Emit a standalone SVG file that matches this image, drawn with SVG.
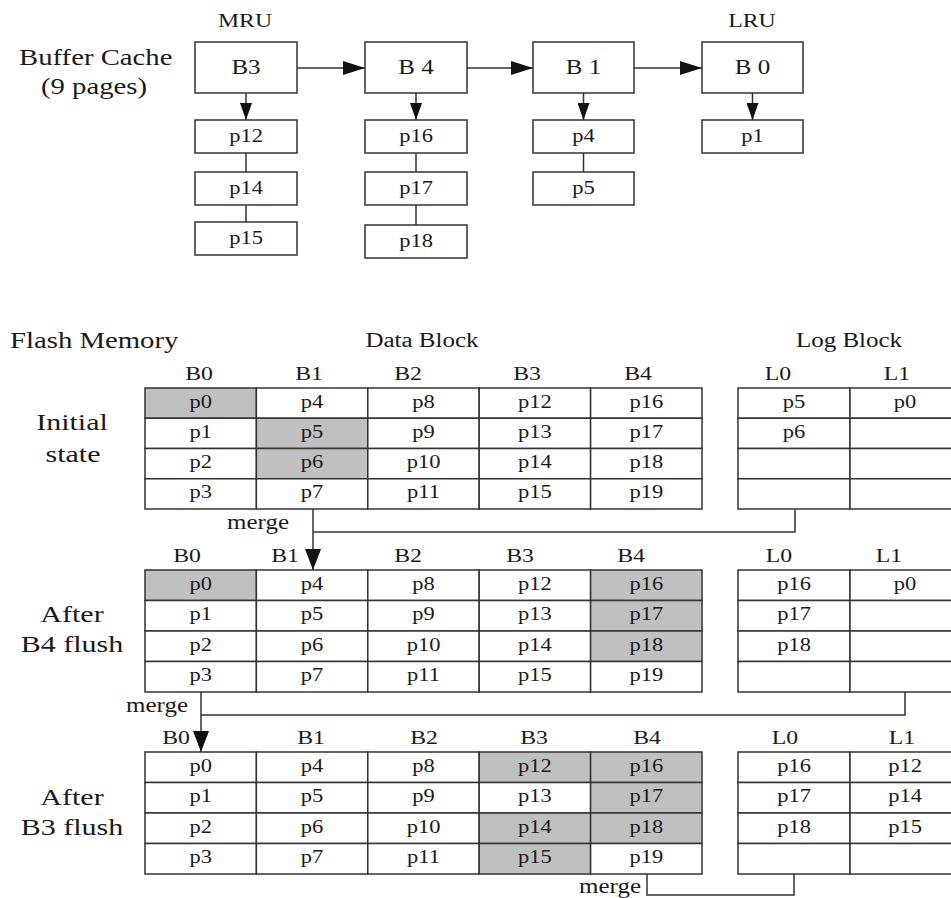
<svg xmlns="http://www.w3.org/2000/svg" width="951" height="898" viewBox="0 0 951 898">
<style>
text{font-family:"Liberation Serif","Times New Roman",serif;fill:#1a1a1a;text-anchor:middle}
.st{text-anchor:start}
.en{text-anchor:end}
.f18{font-size:18px}
.f19{font-size:19px}
.f20{font-size:20px}
.f23{font-size:23px}
.f24{font-size:24px}
.bx{fill:#fff;stroke:#333;stroke-width:1.5}
.c{fill:#fff;stroke:#333;stroke-width:1.5}
.g{fill:#c0c0c0;stroke:#333;stroke-width:1.5}
.ln{fill:none;stroke:#333;stroke-width:1.5}
</style>
<defs>
<marker id="ah" markerUnits="userSpaceOnUse" markerWidth="22" markerHeight="14" refX="22" refY="7" orient="auto"><path d="M0,0 L22,7 L0,14 z" fill="#111"/></marker>
<marker id="ad" markerUnits="userSpaceOnUse" markerWidth="17" markerHeight="12" refX="17" refY="6" orient="auto"><path d="M0,0 L17,6 L0,12 z" fill="#111"/></marker>
<marker id="am" markerUnits="userSpaceOnUse" markerWidth="21" markerHeight="16" refX="21" refY="8" orient="auto"><path d="M0,0 L21,8 L0,16 z" fill="#111"/></marker>
</defs>

<g id="labels">
<text class="st f23" transform="translate(19 65) scale(1.25 1)">Buffer Cache</text>
<text class="f23" transform="translate(94 94) scale(1.25 1)">(9 pages)</text>
<text class="f19" transform="translate(245 27) scale(1.25 1)">MRU</text>
<text class="f19" transform="translate(752 27) scale(1.25 1)">LRU</text>
<text class="st f23" transform="translate(10 348) scale(1.25 1)">Flash Memory</text>
<text class="f20" transform="translate(422 347) scale(1.25 1)">Data Block</text>
<text class="f20" transform="translate(849 347) scale(1.25 1)">Log Block</text>
<text class="f24" transform="translate(72 430) scale(1.25 1)">Initial</text>
<text class="f24" transform="translate(73 462) scale(1.25 1)">state</text>
<text class="f24" transform="translate(72 622) scale(1.25 1)">After</text>
<text class="f24" transform="translate(72 652) scale(1.25 1)">B4 flush</text>
<text class="f24" transform="translate(72 805) scale(1.25 1)">After</text>
<text class="f24" transform="translate(72 835) scale(1.25 1)">B3 flush</text>
</g>

<g id="cache-B3">
<rect class="bx" x="195" y="42" width="102" height="51"/>
<text class="f20" transform="translate(246 74) scale(1.25 1)">B3</text>
<rect class="bx" x="195" y="120" width="102" height="33"/>
<text class="f18" transform="translate(246 142) scale(1.25 1)">p12</text>
<rect class="bx" x="195" y="172" width="102" height="33"/>
<text class="f18" transform="translate(246 194) scale(1.25 1)">p14</text>
<rect class="bx" x="195" y="222" width="102" height="33"/>
<text class="f18" transform="translate(246 244) scale(1.25 1)">p15</text>
</g>
<g id="cache-B4">
<rect class="bx" x="365" y="42" width="102" height="51"/>
<text class="f20" transform="translate(416 74) scale(1.25 1)">B 4</text>
<rect class="bx" x="365" y="120" width="102" height="33"/>
<text class="f18" transform="translate(416 142) scale(1.25 1)">p16</text>
<rect class="bx" x="365" y="172" width="102" height="33"/>
<text class="f18" transform="translate(416 194) scale(1.25 1)">p17</text>
<rect class="bx" x="365" y="225" width="102" height="33"/>
<text class="f18" transform="translate(416 247) scale(1.25 1)">p18</text>
</g>
<g id="cache-B1">
<rect class="bx" x="533" y="42" width="101" height="51"/>
<text class="f20" transform="translate(583.5 74) scale(1.25 1)">B 1</text>
<rect class="bx" x="533" y="120" width="101" height="33"/>
<text class="f18" transform="translate(583.5 142) scale(1.25 1)">p4</text>
<rect class="bx" x="533" y="172" width="101" height="33"/>
<text class="f18" transform="translate(583.5 194) scale(1.25 1)">p5</text>
</g>
<g id="cache-B0">
<rect class="bx" x="702" y="42" width="101" height="51"/>
<text class="f20" transform="translate(752.5 74) scale(1.25 1)">B 0</text>
<rect class="bx" x="702" y="120" width="101" height="33"/>
<text class="f18" transform="translate(752.5 142) scale(1.25 1)">p1</text>
</g>

<g id="table-initial">
<text class="f19" transform="translate(199 380) scale(1.25 1)">B0</text>
<text class="f19" transform="translate(309 380) scale(1.25 1)">B1</text>
<text class="f19" transform="translate(408 380) scale(1.25 1)">B2</text>
<text class="f19" transform="translate(527 380) scale(1.25 1)">B3</text>
<text class="f19" transform="translate(638 380) scale(1.25 1)">B4</text>
<rect class="g" x="145" y="388" width="111.4" height="30.25"/>
<rect class="c" x="145" y="418.25" width="111.4" height="30.25"/>
<rect class="c" x="145" y="448.5" width="111.4" height="30.25"/>
<rect class="c" x="145" y="478.75" width="111.4" height="30.25"/>
<rect class="c" x="256.4" y="388" width="111.4" height="30.25"/>
<rect class="g" x="256.4" y="418.25" width="111.4" height="30.25"/>
<rect class="g" x="256.4" y="448.5" width="111.4" height="30.25"/>
<rect class="c" x="256.4" y="478.75" width="111.4" height="30.25"/>
<rect class="c" x="367.8" y="388" width="111.4" height="30.25"/>
<rect class="c" x="367.8" y="418.25" width="111.4" height="30.25"/>
<rect class="c" x="367.8" y="448.5" width="111.4" height="30.25"/>
<rect class="c" x="367.8" y="478.75" width="111.4" height="30.25"/>
<rect class="c" x="479.2" y="388" width="111.4" height="30.25"/>
<rect class="c" x="479.2" y="418.25" width="111.4" height="30.25"/>
<rect class="c" x="479.2" y="448.5" width="111.4" height="30.25"/>
<rect class="c" x="479.2" y="478.75" width="111.4" height="30.25"/>
<rect class="c" x="590.6" y="388" width="111.4" height="30.25"/>
<rect class="c" x="590.6" y="418.25" width="111.4" height="30.25"/>
<rect class="c" x="590.6" y="448.5" width="111.4" height="30.25"/>
<rect class="c" x="590.6" y="478.75" width="111.4" height="30.25"/>
<text class="f18" transform="translate(200.7 407.5) scale(1.25 1)">p0</text>
<text class="f18" transform="translate(200.7 437.75) scale(1.25 1)">p1</text>
<text class="f18" transform="translate(200.7 468) scale(1.25 1)">p2</text>
<text class="f18" transform="translate(200.7 498.25) scale(1.25 1)">p3</text>
<text class="f18" transform="translate(312.1 407.5) scale(1.25 1)">p4</text>
<text class="f18" transform="translate(312.1 437.75) scale(1.25 1)">p5</text>
<text class="f18" transform="translate(312.1 468) scale(1.25 1)">p6</text>
<text class="f18" transform="translate(312.1 498.25) scale(1.25 1)">p7</text>
<text class="f18" transform="translate(423.5 407.5) scale(1.25 1)">p8</text>
<text class="f18" transform="translate(423.5 437.75) scale(1.25 1)">p9</text>
<text class="f18" transform="translate(423.5 468) scale(1.25 1)">p10</text>
<text class="f18" transform="translate(423.5 498.25) scale(1.25 1)">p11</text>
<text class="f18" transform="translate(534.9 407.5) scale(1.25 1)">p12</text>
<text class="f18" transform="translate(534.9 437.75) scale(1.25 1)">p13</text>
<text class="f18" transform="translate(534.9 468) scale(1.25 1)">p14</text>
<text class="f18" transform="translate(534.9 498.25) scale(1.25 1)">p15</text>
<text class="f18" transform="translate(646.3 407.5) scale(1.25 1)">p16</text>
<text class="f18" transform="translate(646.3 437.75) scale(1.25 1)">p17</text>
<text class="f18" transform="translate(646.3 468) scale(1.25 1)">p18</text>
<text class="f18" transform="translate(646.3 498.25) scale(1.25 1)">p19</text>
</g>
<g id="log-initial">
<text class="f19" transform="translate(778 380) scale(1.25 1)">L0</text>
<text class="f19" transform="translate(897 380) scale(1.25 1)">L1</text>
<rect class="c" x="738" y="388" width="112" height="30.25"/>
<rect class="c" x="738" y="418.25" width="112" height="30.25"/>
<rect class="c" x="738" y="448.5" width="112" height="30.25"/>
<rect class="c" x="738" y="478.75" width="112" height="30.25"/>
<rect class="c" x="850" y="388" width="112" height="30.25"/>
<rect class="c" x="850" y="418.25" width="112" height="30.25"/>
<rect class="c" x="850" y="448.5" width="112" height="30.25"/>
<rect class="c" x="850" y="478.75" width="112" height="30.25"/>
<text class="f18" transform="translate(794 407.5) scale(1.25 1)">p5</text>
<text class="f18" transform="translate(794 437.75) scale(1.25 1)">p6</text>
<text class="f18" transform="translate(905 407.5) scale(1.25 1)">p0</text>
</g>

<g id="table-b4flush">
<text class="f19" transform="translate(187 562) scale(1.25 1)">B0</text>
<text class="f19" transform="translate(285 562) scale(1.25 1)">B1</text>
<text class="f19" transform="translate(408 562) scale(1.25 1)">B2</text>
<text class="f19" transform="translate(520 562) scale(1.25 1)">B3</text>
<text class="f19" transform="translate(631 562) scale(1.25 1)">B4</text>
<rect class="g" x="145" y="570" width="111.4" height="30.5"/>
<rect class="c" x="145" y="600.5" width="111.4" height="30.5"/>
<rect class="c" x="145" y="631" width="111.4" height="30.5"/>
<rect class="c" x="145" y="661.5" width="111.4" height="30.5"/>
<rect class="c" x="256.4" y="570" width="111.4" height="30.5"/>
<rect class="c" x="256.4" y="600.5" width="111.4" height="30.5"/>
<rect class="c" x="256.4" y="631" width="111.4" height="30.5"/>
<rect class="c" x="256.4" y="661.5" width="111.4" height="30.5"/>
<rect class="c" x="367.8" y="570" width="111.4" height="30.5"/>
<rect class="c" x="367.8" y="600.5" width="111.4" height="30.5"/>
<rect class="c" x="367.8" y="631" width="111.4" height="30.5"/>
<rect class="c" x="367.8" y="661.5" width="111.4" height="30.5"/>
<rect class="c" x="479.2" y="570" width="111.4" height="30.5"/>
<rect class="c" x="479.2" y="600.5" width="111.4" height="30.5"/>
<rect class="c" x="479.2" y="631" width="111.4" height="30.5"/>
<rect class="c" x="479.2" y="661.5" width="111.4" height="30.5"/>
<rect class="g" x="590.6" y="570" width="111.4" height="30.5"/>
<rect class="g" x="590.6" y="600.5" width="111.4" height="30.5"/>
<rect class="g" x="590.6" y="631" width="111.4" height="30.5"/>
<rect class="c" x="590.6" y="661.5" width="111.4" height="30.5"/>
<text class="f18" transform="translate(200.7 589.5) scale(1.25 1)">p0</text>
<text class="f18" transform="translate(200.7 620) scale(1.25 1)">p1</text>
<text class="f18" transform="translate(200.7 650.5) scale(1.25 1)">p2</text>
<text class="f18" transform="translate(200.7 681) scale(1.25 1)">p3</text>
<text class="f18" transform="translate(312.1 589.5) scale(1.25 1)">p4</text>
<text class="f18" transform="translate(312.1 620) scale(1.25 1)">p5</text>
<text class="f18" transform="translate(312.1 650.5) scale(1.25 1)">p6</text>
<text class="f18" transform="translate(312.1 681) scale(1.25 1)">p7</text>
<text class="f18" transform="translate(423.5 589.5) scale(1.25 1)">p8</text>
<text class="f18" transform="translate(423.5 620) scale(1.25 1)">p9</text>
<text class="f18" transform="translate(423.5 650.5) scale(1.25 1)">p10</text>
<text class="f18" transform="translate(423.5 681) scale(1.25 1)">p11</text>
<text class="f18" transform="translate(534.9 589.5) scale(1.25 1)">p12</text>
<text class="f18" transform="translate(534.9 620) scale(1.25 1)">p13</text>
<text class="f18" transform="translate(534.9 650.5) scale(1.25 1)">p14</text>
<text class="f18" transform="translate(534.9 681) scale(1.25 1)">p15</text>
<text class="f18" transform="translate(646.3 589.5) scale(1.25 1)">p16</text>
<text class="f18" transform="translate(646.3 620) scale(1.25 1)">p17</text>
<text class="f18" transform="translate(646.3 650.5) scale(1.25 1)">p18</text>
<text class="f18" transform="translate(646.3 681) scale(1.25 1)">p19</text>
</g>
<g id="log-b4flush">
<text class="f19" transform="translate(779 562) scale(1.25 1)">L0</text>
<text class="f19" transform="translate(889 562) scale(1.25 1)">L1</text>
<rect class="c" x="738" y="570" width="112" height="30.5"/>
<rect class="c" x="738" y="600.5" width="112" height="30.5"/>
<rect class="c" x="738" y="631" width="112" height="30.5"/>
<rect class="c" x="738" y="661.5" width="112" height="30.5"/>
<rect class="c" x="850" y="570" width="112" height="30.5"/>
<rect class="c" x="850" y="600.5" width="112" height="30.5"/>
<rect class="c" x="850" y="631" width="112" height="30.5"/>
<rect class="c" x="850" y="661.5" width="112" height="30.5"/>
<text class="f18" transform="translate(794 589.5) scale(1.25 1)">p16</text>
<text class="f18" transform="translate(794 620) scale(1.25 1)">p17</text>
<text class="f18" transform="translate(794 650.5) scale(1.25 1)">p18</text>
<text class="f18" transform="translate(905 589.5) scale(1.25 1)">p0</text>
</g>

<g id="table-b3flush">
<text class="f19" transform="translate(176 744) scale(1.25 1)">B0</text>
<text class="f19" transform="translate(311 744) scale(1.25 1)">B1</text>
<text class="f19" transform="translate(424 744) scale(1.25 1)">B2</text>
<text class="f19" transform="translate(534 744) scale(1.25 1)">B3</text>
<text class="f19" transform="translate(647 744) scale(1.25 1)">B4</text>
<rect class="c" x="145" y="752" width="111.4" height="30.5"/>
<rect class="c" x="145" y="782.5" width="111.4" height="30.5"/>
<rect class="c" x="145" y="813" width="111.4" height="30.5"/>
<rect class="c" x="145" y="843.5" width="111.4" height="30.5"/>
<rect class="c" x="256.4" y="752" width="111.4" height="30.5"/>
<rect class="c" x="256.4" y="782.5" width="111.4" height="30.5"/>
<rect class="c" x="256.4" y="813" width="111.4" height="30.5"/>
<rect class="c" x="256.4" y="843.5" width="111.4" height="30.5"/>
<rect class="c" x="367.8" y="752" width="111.4" height="30.5"/>
<rect class="c" x="367.8" y="782.5" width="111.4" height="30.5"/>
<rect class="c" x="367.8" y="813" width="111.4" height="30.5"/>
<rect class="c" x="367.8" y="843.5" width="111.4" height="30.5"/>
<rect class="g" x="479.2" y="752" width="111.4" height="30.5"/>
<rect class="c" x="479.2" y="782.5" width="111.4" height="30.5"/>
<rect class="g" x="479.2" y="813" width="111.4" height="30.5"/>
<rect class="g" x="479.2" y="843.5" width="111.4" height="30.5"/>
<rect class="g" x="590.6" y="752" width="111.4" height="30.5"/>
<rect class="g" x="590.6" y="782.5" width="111.4" height="30.5"/>
<rect class="g" x="590.6" y="813" width="111.4" height="30.5"/>
<rect class="c" x="590.6" y="843.5" width="111.4" height="30.5"/>
<text class="f18" transform="translate(200.7 771.5) scale(1.25 1)">p0</text>
<text class="f18" transform="translate(200.7 802) scale(1.25 1)">p1</text>
<text class="f18" transform="translate(200.7 832.5) scale(1.25 1)">p2</text>
<text class="f18" transform="translate(200.7 863) scale(1.25 1)">p3</text>
<text class="f18" transform="translate(312.1 771.5) scale(1.25 1)">p4</text>
<text class="f18" transform="translate(312.1 802) scale(1.25 1)">p5</text>
<text class="f18" transform="translate(312.1 832.5) scale(1.25 1)">p6</text>
<text class="f18" transform="translate(312.1 863) scale(1.25 1)">p7</text>
<text class="f18" transform="translate(423.5 771.5) scale(1.25 1)">p8</text>
<text class="f18" transform="translate(423.5 802) scale(1.25 1)">p9</text>
<text class="f18" transform="translate(423.5 832.5) scale(1.25 1)">p10</text>
<text class="f18" transform="translate(423.5 863) scale(1.25 1)">p11</text>
<text class="f18" transform="translate(534.9 771.5) scale(1.25 1)">p12</text>
<text class="f18" transform="translate(534.9 802) scale(1.25 1)">p13</text>
<text class="f18" transform="translate(534.9 832.5) scale(1.25 1)">p14</text>
<text class="f18" transform="translate(534.9 863) scale(1.25 1)">p15</text>
<text class="f18" transform="translate(646.3 771.5) scale(1.25 1)">p16</text>
<text class="f18" transform="translate(646.3 802) scale(1.25 1)">p17</text>
<text class="f18" transform="translate(646.3 832.5) scale(1.25 1)">p18</text>
<text class="f18" transform="translate(646.3 863) scale(1.25 1)">p19</text>
</g>
<g id="log-b3flush">
<text class="f19" transform="translate(785 744) scale(1.25 1)">L0</text>
<text class="f19" transform="translate(902 744) scale(1.25 1)">L1</text>
<rect class="c" x="738" y="752" width="112" height="30.5"/>
<rect class="c" x="738" y="782.5" width="112" height="30.5"/>
<rect class="c" x="738" y="813" width="112" height="30.5"/>
<rect class="c" x="738" y="843.5" width="112" height="30.5"/>
<rect class="c" x="850" y="752" width="112" height="30.5"/>
<rect class="c" x="850" y="782.5" width="112" height="30.5"/>
<rect class="c" x="850" y="813" width="112" height="30.5"/>
<rect class="c" x="850" y="843.5" width="112" height="30.5"/>
<text class="f18" transform="translate(794 771.5) scale(1.25 1)">p16</text>
<text class="f18" transform="translate(794 802) scale(1.25 1)">p17</text>
<text class="f18" transform="translate(794 832.5) scale(1.25 1)">p18</text>
<text class="f18" transform="translate(905 771.5) scale(1.25 1)">p12</text>
<text class="f18" transform="translate(905 802) scale(1.25 1)">p14</text>
<text class="f18" transform="translate(905 832.5) scale(1.25 1)">p15</text>
</g>

<g id="connectors">
<line class="ln" x1="297" y1="68" x2="365" y2="68" marker-end="url(#ah)"/>
<line class="ln" x1="467" y1="68" x2="533" y2="68" marker-end="url(#ah)"/>
<line class="ln" x1="634" y1="68" x2="702" y2="68" marker-end="url(#ah)"/>
<line class="ln" x1="246" y1="93" x2="246" y2="120" marker-end="url(#ad)"/>
<line class="ln" x1="416" y1="93" x2="416" y2="120" marker-end="url(#ad)"/>
<line class="ln" x1="583.5" y1="93" x2="583.5" y2="120" marker-end="url(#ad)"/>
<line class="ln" x1="752.5" y1="93" x2="752.5" y2="120" marker-end="url(#ad)"/>
<line class="ln" x1="246" y1="153" x2="246" y2="172"/>
<line class="ln" x1="246" y1="205" x2="246" y2="222"/>
<line class="ln" x1="416" y1="153" x2="416" y2="172"/>
<line class="ln" x1="416" y1="205" x2="416" y2="225"/>
<line class="ln" x1="583.5" y1="153" x2="583.5" y2="172"/>
<polyline class="ln" points="795,509 795,532 313,532"/>
<line class="ln" x1="313" y1="509" x2="313" y2="570" marker-end="url(#am)"/>
<text class="en f20" transform="translate(289 529) scale(1.25 1)">merge</text>
<polyline class="ln" points="905,692 905,715 201,715"/>
<line class="ln" x1="201" y1="692" x2="201" y2="752" marker-end="url(#am)"/>
<text class="en f20" transform="translate(188 712) scale(1.25 1)">merge</text>
<polyline class="ln" points="647,874 647,895 794,895 794,874"/>
<text class="en f20" transform="translate(641 893) scale(1.25 1)">merge</text>
</g>
</svg>
